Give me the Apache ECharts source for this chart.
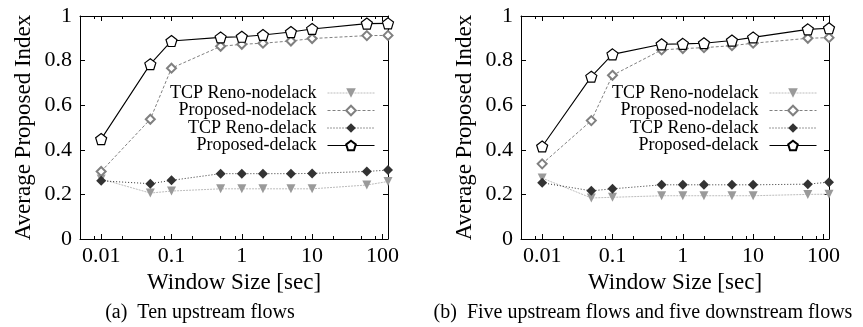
<!DOCTYPE html>
<html>
<head>
<meta charset="utf-8">
<script src="https://cdn.jsdelivr.net/npm/echarts@6/dist/echarts.min.js"></script>
<style>
  html, body { margin: 0; padding: 0; background: #fff; }
  #chart { width: 863px; height: 327px; }
</style>
</head>
<body>
<div id="chart"></div>
<script>
// window sizes in seconds (x values, plotted on a log axis)
const windowSizes = [0.01, 0.05, 0.1, 0.5, 1, 2, 5, 10, 60, 120]
const xTickLabels = ['0.01', '0.1', '1', '10', '100']
const xMinorSteps = [2, 5, 8]
const seriesNames = ['TCP Reno-nodelack', 'Proposed-nodelack', 'TCP Reno-delack', 'Proposed-delack']

// (a) Ten upstream flows
const renoNodelackA = [0.269, 0.206, 0.215, 0.225, 0.225, 0.225, 0.225, 0.225, 0.242, 0.258]
const propNodelackA = [0.303, 0.537, 0.766, 0.864, 0.873, 0.878, 0.888, 0.899, 0.912, 0.913]
const renoDelackA = [0.261, 0.248, 0.263, 0.293, 0.293, 0.293, 0.293, 0.294, 0.303, 0.309]
const propDelackA = [0.448, 0.784, 0.888, 0.904, 0.907, 0.915, 0.928, 0.942, 0.966, 0.967]

// (b) Five upstream flows and five downstream flows
const renoNodelackB = [0.273, 0.184, 0.187, 0.194, 0.194, 0.194, 0.194, 0.194, 0.200, 0.201]
const propNodelackB = [0.337, 0.531, 0.734, 0.848, 0.854, 0.858, 0.867, 0.878, 0.900, 0.903]
const renoDelackB = [0.252, 0.216, 0.225, 0.243, 0.243, 0.243, 0.243, 0.243, 0.246, 0.255]
const propDelackB = [0.415, 0.728, 0.828, 0.873, 0.875, 0.878, 0.890, 0.904, 0.940, 0.945]

const FONT = 'Liberation Serif'
const xMin = Math.log10(0.005)
const xMax = Math.log10(120)
const xMajor = xTickLabels.map(s => Math.log10(parseFloat(s)))
const xMinor = []
for (let d = -3; d <= 2; d++) {
  xMinorSteps.forEach(k => {
    const v = Math.log10(k * Math.pow(10, d))
    if (v > xMin && v < xMax) xMinor.push(v)
  })
}

const pentagon = 'path://M0,-10L9.51,-3.09L5.88,8.09L-5.88,8.09L-9.51,-3.09Z'

const styles = [
  { // TCP Reno-nodelack
    symbol: 'triangle', symbolRotate: 180, symbolSize: 9,
    itemStyle: { color: '#9a9a9a' },
    lineStyle: { color: '#bdbdbd', width: 1, type: [2, 1] }
  },
  { // Proposed-nodelack
    symbol: 'emptyDiamond', symbolSize: 9,
    itemStyle: { color: '#808080', borderWidth: 1 },
    lineStyle: { color: '#808080', width: 1, type: [3, 2] }
  },
  { // TCP Reno-delack
    symbol: 'diamond', symbolSize: 10,
    itemStyle: { color: '#333' },
    lineStyle: { color: '#333', width: 1, type: [1, 2] }
  },
  { // Proposed-delack
    symbol: pentagon, symbolSize: 11,
    itemStyle: { color: '#fff', borderColor: '#000', borderWidth: 1.2 },
    lineStyle: { color: '#000', width: 1.1, type: 'solid' }
  }
]

const panels = [
  { left: 80, legendRight: 488, caption: '(a)  Ten upstream flows', capX: 200,
    values: [renoNodelackA, propNodelackA, renoDelackA, propDelackA] },
  { left: 521, legendRight: 46, caption: '(b)  Five upstream flows and five downstream flows', capX: 643,
    values: [renoNodelackB, propNodelackB, renoDelackB, propDelackB] }
]

const grid = []
const xAxis = []
const yAxis = []
const series = []
const legend = []
const graphic = []

panels.forEach((p, gi) => {
  grid.push({ left: p.left, top: 16, width: 308, height: 223 })

  const baseX = { type: 'value', gridIndex: gi, min: xMin, max: xMax, splitLine: { show: false } }
  xAxis.push(Object.assign({}, baseX, {
    position: 'bottom',
    name: 'Window Size [sec]',
    nameLocation: 'middle',
    nameGap: 30,
    nameTextStyle: { fontFamily: FONT, fontSize: 23, color: '#000' },
    axisLine: { show: true, onZero: false, lineStyle: { color: '#000', width: 1 } },
    axisTick: { show: true, inside: true, length: 5, customValues: xMajor, lineStyle: { color: '#000' } },
    axisLabel: {
      customValues: xMajor, margin: 6, fontFamily: FONT, fontSize: 22, color: '#000',
      formatter: v => xTickLabels[xMajor.findIndex(m => Math.abs(m - v) < 1e-6)]
    }
  }))
  xAxis.push(Object.assign({}, baseX, {
    position: 'bottom',
    axisLine: { show: false, onZero: false },
    axisTick: { show: true, inside: true, length: 3, customValues: xMinor, lineStyle: { color: '#000' } },
    axisLabel: { show: false }
  }))
  xAxis.push(Object.assign({}, baseX, {
    position: 'top',
    axisLine: { show: true, onZero: false, lineStyle: { color: '#000', width: 1 } },
    axisTick: { show: true, inside: true, length: 5, customValues: xMajor, lineStyle: { color: '#000' } },
    axisLabel: { show: false }
  }))
  xAxis.push(Object.assign({}, baseX, {
    position: 'top',
    axisLine: { show: false, onZero: false },
    axisTick: { show: true, inside: true, length: 3, customValues: xMinor, lineStyle: { color: '#000' } },
    axisLabel: { show: false }
  }))

  yAxis.push({
    type: 'value', gridIndex: gi, position: 'left', min: 0, max: 1, interval: 0.2,
    name: 'Average Proposed Index',
    nameLocation: 'middle',
    nameGap: 45,
    nameTextStyle: { fontFamily: FONT, fontSize: 23, color: '#000' },
    splitLine: { show: false },
    axisLine: { show: true, onZero: false, lineStyle: { color: '#000', width: 1 } },
    axisTick: { show: true, inside: true, length: 5, lineStyle: { color: '#000' } },
    axisLabel: { margin: 8, fontFamily: FONT, fontSize: 22, color: '#000' }
  })
  yAxis.push({
    type: 'value', gridIndex: gi, position: 'right', min: 0, max: 1, interval: 0.2,
    splitLine: { show: false },
    axisLine: { show: true, onZero: false, lineStyle: { color: '#000', width: 1 } },
    axisTick: { show: true, inside: true, length: 5, lineStyle: { color: '#000' } },
    axisLabel: { show: false }
  })

  seriesNames.forEach((name, si) => {
    series.push(Object.assign({
      name: name,
      type: 'line',
      xAxisIndex: gi * 4,
      yAxisIndex: gi * 2,
      showAllSymbol: true,
      data: windowSizes.map((w, i) => [Math.log10(w), p.values[si][i]])
    }, styles[si]))

    legend.push({
      data: [name],
      right: p.legendRight,
      top: 84 + si * 17.5,
      orient: 'vertical',
      align: 'right',
      padding: 0,
      itemWidth: 47,
      itemHeight: 12,
      selectedMode: false,
      lineStyle: { width: 1 },
      textStyle: { fontFamily: FONT, fontSize: 18, color: '#000', lineHeight: 18, padding: [0, 6, 0, 0] }
    })
  })

  graphic.push({
    type: 'text', x: p.capX, y: 313,
    style: { text: p.caption, font: '20px "Liberation Serif"', fill: '#000', textAlign: 'center', textVerticalAlign: 'middle' }
  })
})

const chart = echarts.init(document.getElementById('chart'))
chart.setOption({
  animation: false,
  backgroundColor: '#fff',
  grid: grid,
  xAxis: xAxis,
  yAxis: yAxis,
  legend: legend,
  graphic: graphic,
  series: series
})
</script>
</body>
</html>
